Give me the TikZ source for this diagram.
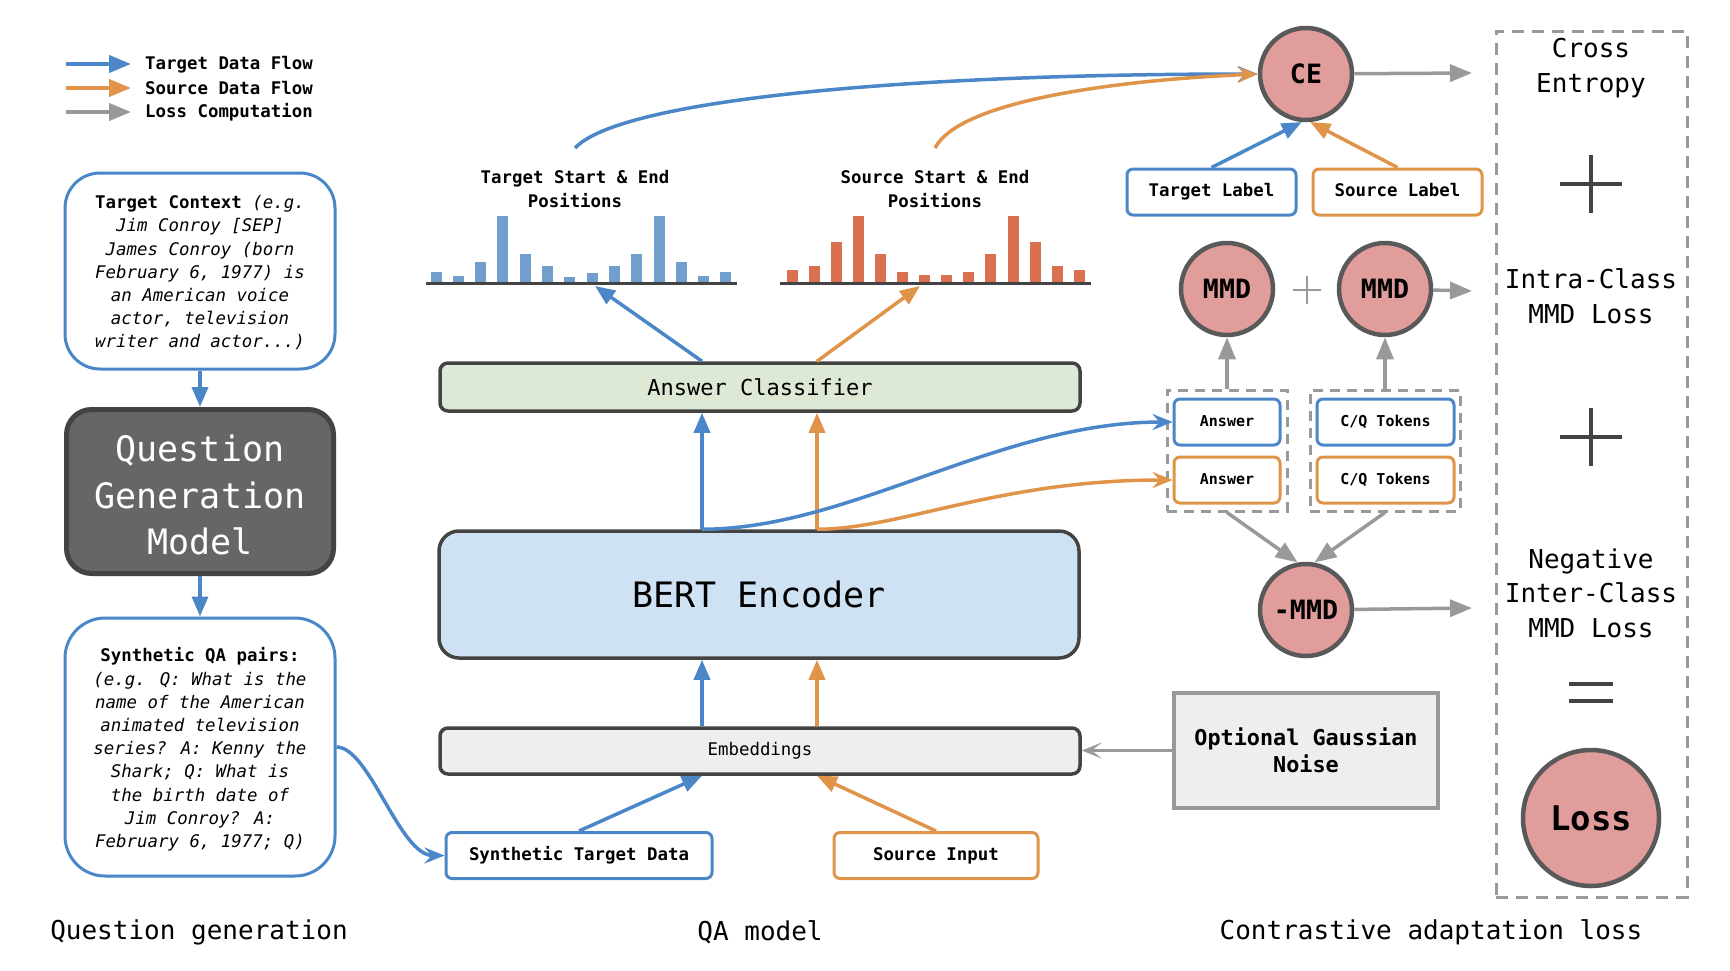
\documentclass[tikz,border=0pt]{standalone}
\usepackage{fontspec}
\setmainfont{DejaVu Sans Mono}
\usepackage{xcolor}
\usepackage{tikz}
\usetikzlibrary{positioning,shapes,arrows.meta}
\definecolor{tblue}{RGB}{74,134,200}
\definecolor{sorange}{RGB}{224,148,74}
\definecolor{lgray}{RGB}{153,153,153}
\definecolor{dgray}{RGB}{67,67,67}
\definecolor{mgray}{RGB}{102,102,102}
\definecolor{cgray}{RGB}{89,89,89}
\definecolor{pink}{RGB}{224,157,155}
\definecolor{bbar}{RGB}{114,158,206}
\definecolor{rbar}{RGB}{217,112,79}
\definecolor{clsgreen}{RGB}{221,233,213}
\definecolor{bertblue}{RGB}{207,226,243}
\definecolor{embgray}{RGB}{238,238,238}

\begin{document}
\begin{tikzpicture}[x=1pt, y=-1pt,
  every node/.style={inner sep=0pt, font=\fontsize{17.4}{23.2}\selectfont},
  tflow/.style={draw=tblue, line width=3.5pt, -{Triangle[length=20pt,width=16pt]}},
  sflow/.style={draw=sorange, line width=3.5pt, -{Triangle[length=20pt,width=16pt]}},
  tcurve/.style={draw=tblue, line width=3.5pt, -{Stealth[length=20pt,width=16pt,inset=7pt]}},
  scurve/.style={draw=sorange, line width=3.5pt, -{Stealth[length=20pt,width=16pt,inset=7pt]}},
  lflow/.style={draw=lgray, line width=3.5pt, -{Triangle[length=22pt,width=17pt]}},
  legarrow/.style={line width=4pt, -{Triangle[length=22pt,width=17pt]}},
  ctxbox/.style={draw=tblue, line width=3pt, rounded corners=35pt, minimum width=270pt, align=center, font=\fontsize{17.4}{23.2}\selectfont\itshape},
  qgbox/.style={draw=dgray, fill=mgray, line width=5pt, rounded corners=25pt, minimum width=267pt, minimum height=164pt, align=center, text=white, font=\fontsize{35}{46.5}\selectfont},
  layer/.style={draw=dgray, line width=3.5pt, rounded corners=8pt, minimum width=640pt},
  tbox/.style={draw=tblue, fill=white, line width=3pt, rounded corners=6pt, minimum height=46pt, text height=12.5pt, text depth=3.5pt, font=\fontsize{17.4}{23.2}\selectfont\bfseries},
  sbox/.style={tbox, draw=sorange},
  tsmall/.style={tbox, text height=11pt, text depth=3pt, font=\fontsize{15}{20}\selectfont\bfseries},
  ssmall/.style={tsmall, draw=sorange},
  grpbox/.style={draw=lgray, line width=3pt, dash pattern=on 10pt off 7pt, minimum height=121pt},
  lossc/.style={circle, draw=cgray, fill=pink, line width=4.5pt, minimum size=92pt, font=\fontsize{26.6}{30}\selectfont\bfseries},
  bigtext/.style={align=center, font=\fontsize{26}{34.5}\selectfont},
  titletext/.style={align=center, font=\fontsize{17.4}{24}\selectfont\bfseries}]

\useasboundingbox (0,0) rectangle (1730,970);

% legend
\coordinate (lta) at (66,64);  \coordinate (ltb) at (131,64);
\coordinate (lsa) at (66,88);  \coordinate (lsb) at (131,88);
\coordinate (lla) at (66,112); \coordinate (llb) at (131,112);
\draw[legarrow, tblue] (lta) -- (ltb);
\draw[legarrow, sorange] (lsa) -- (lsb);
\draw[legarrow, lgray] (lla) -- (llb);
\node[anchor=west, font=\fontsize{17.4}{23.2}\selectfont\bfseries] (legt) at (145,65) {Target Data Flow};
\node[anchor=west, font=\fontsize{17.4}{23.2}\selectfont\bfseries] (legs) at (145,88) {Source Data Flow};
\node[anchor=west, font=\fontsize{17.4}{23.2}\selectfont\bfseries] (legl) at (145,112) {Loss Computation};

% question generation
\node[ctxbox, minimum height=196pt] (tctx) at (200,271) {\textup{\textbf{\rule{0pt}{17pt}Target Context}} (e.g.\\Jim Conroy [SEP]\\James Conroy (born\\February 6, 1977) is\\an American voice\\actor, television\\writer and actor...)};
\node[qgbox, below=36.5pt of tctx] (qgm) {\rule{0pt}{34pt}Question\\Generation\\Model};
\node[ctxbox, minimum height=258pt, rounded corners=40pt, below=40.5pt of qgm] (sqa) {\textup{\textbf{\rule{0pt}{19pt}Synthetic QA pairs:}}\\(e.g. Q: What is the\\name of the American\\animated television\\series? A: Kenny the\\Shark; Q: What is\\the birth date of\\Jim Conroy? A:\\February 6, 1977; Q)};
\draw[tflow] (tctx) -- (qgm);
\draw[tflow] (qgm) -- (sqa);

% QA model
\node[layer, fill=clsgreen, minimum height=48pt, font=\fontsize{22}{26}\selectfont] (cls) at (760,387) {Answer Classifier};
\node[layer, fill=bertblue, minimum height=127pt, rounded corners=20pt, font=\fontsize{35}{40}\selectfont] (bert) at (759,594.5) {BERT Encoder};
\node[layer, fill=embgray, minimum height=46pt] (emb) at (760,751) {Embeddings};
\node[tbox, minimum width=266pt] (syn) at (579,855.5) {Synthetic Target Data};
\node[sbox, minimum width=204pt] (src) at (936,855.5) {Source Input};
\node[draw=lgray, fill=embgray, line width=3.5pt, minimum width=264pt, minimum height=115pt, align=center, font=\fontsize{21.8}{27.5}\selectfont\bfseries] (noise) at (1306,750.5) {Optional Gaussian\\Noise};

\node[titletext] (ttitle) at (575,189) {Target Start \& End\\Positions};
\node[titletext] (stitle) at (935,189) {Source Start \& End\\Positions};

% histograms
\foreach \i/\h in {0/10,1/6,2/20,3/66,4/28,5/16,6/5,7/9,8/16,9/28,10/66,11/20,12/6,13/10}
  \fill[bbar] (430.5+22.3*\i,282) rectangle ++(11,-\h);
\foreach \i/\h in {0/12,1/16,2/40,3/66,4/28,5/10,6/7,7/7,8/10,9/28,10/66,11/40,12/16,13/12}
  \fill[rbar] (786.5+22.1*\i,282) rectangle ++(11,-\h);
\draw[dgray, line width=3pt] (426,283) -- (737,283);
\draw[dgray, line width=3pt] (780,283) -- (1091,283);

\coordinate (tx) at (702,0);
\coordinate (sx) at (817,0);
\coordinate (thist) at (595,286);
\coordinate (shist) at (920,286);
\coordinate (ttop) at (575,148);
\coordinate (stop) at (935,148);

\draw[tflow] (bert.north -| tx) -- (cls.south -| tx);
\draw[sflow] (bert.north -| sx) -- (cls.south -| sx);
\draw[tflow] (cls.north -| tx) -- (thist);
\draw[sflow] (cls.north -| sx) -- (shist);
\draw[tflow] (emb.north -| tx) -- (bert.south -| tx);
\draw[sflow] (emb.north -| sx) -- (bert.south -| sx);
\draw[tflow] (syn.north) -- (emb.south -| tx);
\draw[sflow] (src.north) -- (emb.south -| sx);
\draw[draw=lgray, line width=3pt, -{Stealth[length=20pt,width=16pt,inset=10pt]}] (noise) -- (emb.east |- noise);
\draw[tcurve] (sqa.east) .. controls +(33,0) and +(-45,0) .. (syn.west);

% contrastive adaptation loss
\node[lossc] (ce) at (1306,74) {CE};
\node[tbox, minimum width=169pt] (tlab) at (1211.5,192) {Target Label};
\node[sbox, minimum width=169pt] (slab) at (1397.5,192) {Source Label};
\node[lossc] (mmda) at (1227,289) {MMD};
\node[lossc] (mmdb) at (1385,289) {MMD};
\node[grpbox, minimum width=120pt] (grpa) at (1227,450.5) {};
\node[grpbox, minimum width=150pt] (grpb) at (1385,450.5) {};
\node[tsmall, minimum width=106pt] (anst) at (1227,422) {Answer};
\node[ssmall, minimum width=106pt] (anss) at (1227,480) {Answer};
\node[tsmall, minimum width=137pt] (cqt) at (1385.5,422) {C/Q Tokens};
\node[ssmall, minimum width=137pt] (cqs) at (1385.5,480) {C/Q Tokens};
\node[lossc] (nmmd) at (1306,610) {-MMD};

\draw[tcurve] (ttop) .. controls (620,100) and (900,74) .. (ce.west);
\draw[scurve] (stop) .. controls (960,100) and (1120,80) .. (ce.west);
\draw[tcurve] (bert.north -| tx) .. controls +(148,0) and +(-174,0) .. (anst.west);
\draw[scurve] (bert.north -| sx) .. controls +(83,0) and +(-174,0) .. (anss.west);
\draw[tflow] (tlab.north) -- (ce.265);
\draw[sflow] (slab.north) -- (ce.275);
\draw[lflow] (grpa.north) -- (mmda.south);
\draw[lflow] (grpb.north) -- (mmdb.south);
\draw[lflow] (grpa.south) -- (nmmd.100);
\draw[lflow] (grpb.south) -- (nmmd.80);
\draw[lgray, line width=2pt] (1307,276) -- (1307,304) (1293,290) -- (1321,290);

\coordinate (ceout) at (1472,73);
\coordinate (mmdout) at (1472,291);
\coordinate (nmmdout) at (1472,608);
\draw[lflow] (ce) -- (ceout);
\draw[lflow] (mmdb) -- (mmdout);
\draw[lflow] (nmmd) -- (nmmdout);

\node[draw=lgray, line width=3pt, dash pattern=on 12pt off 8pt, minimum width=191pt, minimum height=866pt] (sumbox) at (1591.5,464) {};
\node[bigtext] (cetxt) at (1591,68) {Cross\\Entropy};
\node[bigtext] (intratxt) at (1591,296) {Intra-Class\\MMD Loss};
\node[bigtext] (intertxt) at (1591,593) {Negative\\Inter-Class\\MMD Loss};
\draw[dgray, line width=4pt] (1591,155) -- (1591,213) (1560,184) -- (1622,184);
\draw[dgray, line width=4pt] (1591,408) -- (1591,466) (1560,437) -- (1622,437);
\draw[dgray, line width=4pt] (1569,684) -- (1613,684) (1569,701) -- (1613,701);
\node[lossc, minimum size=136pt, font=\fontsize{34}{40}\selectfont\bfseries] (loss) at (1591,818) {Loss};

% section labels
\node[font=\fontsize{26}{30}\selectfont] (qglab) at (199,932) {Question generation};
\node[font=\fontsize{26}{30}\selectfont] (qalab) at (760,932) {QA model};
\node[font=\fontsize{26}{30}\selectfont] (cllab) at (1431,932) {Contrastive adaptation loss};
\end{tikzpicture}
\end{document}
